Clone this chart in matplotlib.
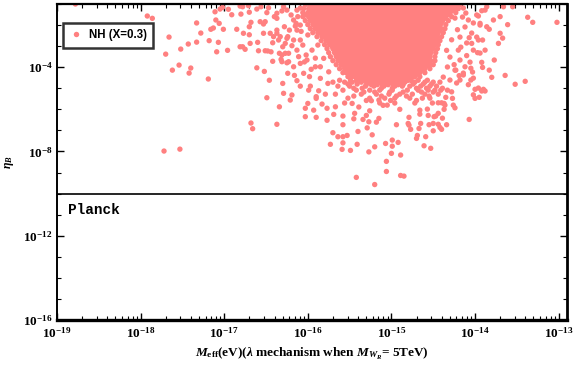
import numpy as np
import matplotlib
matplotlib.use("Agg")
import matplotlib.pyplot as plt
from matplotlib.ticker import FixedLocator, LogLocator, FuncFormatter, NullFormatter
from matplotlib.lines import Line2D

plt.rcParams['mathtext.fontset'] = 'custom'
plt.rcParams['mathtext.rm'] = 'Liberation Serif:bold'
plt.rcParams['mathtext.bf'] = 'Liberation Serif:bold'
plt.rcParams['mathtext.it'] = 'Liberation Serif:italic:bold'

# ---------------- data (log10 values) ----------------
left_lx = [-18.78,-17.92,-17.86,-17.33,-17.28,-17.66,-17.33,-17.43,-17.52,-17.70,-17.54,-17.62,-17.40,-17.42,-17.72,-17.53,-17.19,-16.68,-16.66,-16.37,
           -17.18,-17.09,-17.07,-17.16,-17.13,-17.10,-17.06,-17.01,-16.96,-17.11,-17.05,-17.02,-16.95,-16.91,-16.85,-16.81,-16.78,-16.75,-16.77,-16.70,
           -16.70,-16.70,-16.80,-16.81,-16.71,-16.68,-16.60,-16.59,-16.61,-16.52,-16.48,-16.46,-16.49,-16.34,-16.30,-16.29,-16.42,-16.34,-16.24,-16.16,
           -16.13,-16.19,-16.21,-16.49,-16.51,-16.53,-16.47,-16.37,-16.37,-16.41,-16.35,-16.32,-16.27,-16.27,-16.25,-16.24,-16.25,-16.28]
left_ly = [-1.00,-1.57,-1.68,-1.90,-2.38,-2.57,-2.81,-2.90,-3.14,-3.38,-3.90,-4.14,-4.04,-4.28,-7.98,-7.89,-4.56,-6.65,-6.92,-6.71,
           -2.74,-3.27,-2.82,-2.20,-2.14,-1.76,-1.92,-2.20,-3.20,-1.37,-1.24,-1.16,-1.25,-1.51,-2.20,-3.03,-3.03,-3.15,-2.39,-2.46,
           -2.08,-1.39,-1.48,-1.10,-1.08,-1.87,-2.82,-3.22,-4.03,-4.20,-3.23,-4.62,-5.45,-5.88,-4.77,-5.24,-3.72,-3.34,-4.29,-4.39,
           -4.64,-5.32,-5.56,-1.41,-1.84,-2.39,-1.18,-1.68,-2.39,-2.55,-2.71,-3.63,-2.87,-3.34,-3.79,-2.55,-1.29,-2.08]

left2_lx = [-16.78,-16.61,-16.56,-16.57,-16.53,-16.40,-16.37,-16.31,-16.29,-16.69,-16.51,-16.44,-16.42,-16.45,-16.37,-16.33,-16.30,-16.25,-16.22,-16.31,
            -16.31,-16.23,-16.23,-16.17,-16.09,-15.97,-15.90,-15.99,-16.05,-16.09,-16.01,-15.91,-15.85,-15.81,-15.75,-15.85,-15.76,-16.13,-16.09,-16.17,
            -16.13,-16.17,-16.13,-16.09,-16.03,-16.09,-16.00,-16.06,-15.95,-16.02,-15.88,-15.91,
            -16.12,-16.20,-16.15,-16.08,-16.19,-16.04,-15.96,-16.11,-15.98,-16.14]
left2_ly = [-1.13,-1.24,-1.13,-1.84,-1.95,-1.60,-1.44,-1.33,-1.13,-2.87,-3.22,-3.27,-2.84,-2.39,-2.24,-2.55,-3.03,-2.63,-2.24,-3.42,
            -3.74,-3.34,-3.74,-3.98,-4.90,-4.90,-5.40,-5.09,-4.29,-3.82,-3.66,-3.98,-3.98,-3.58,-4.22,-4.53,-4.77,-3.19,-2.71,-2.71,
            -2.24,-1.76,-1.29,-1.19,-1.52,-2.00,-2.47,-2.95,-3.19,-3.42,-2.95,-3.57,
            -1.60,-1.52,-2.05,-2.30,-2.98,-3.75,-4.10,-3.50,-4.45,-1.92]

mid_lx = [-16.03,-16.03,-16.00,-15.93,-15.90,-15.90,-15.87,-15.83,-15.79,-15.77,
          -15.77,-15.70,-15.73,-15.69,-15.67,-15.64,-15.58,-15.59,-15.58,-15.58,
          -15.53,-15.49,-15.47,-15.45,-15.42,-15.41,-15.40,-15.39,-15.34,-15.30,
          -15.29,-15.27,-15.26,-15.24,-15.23,-15.20,-15.20,-15.18,-15.15,-15.15,
          -15.10,-15.07,-15.06,-15.06,-15.05,-15.00,-14.99,-14.94,-14.92,-14.89,
          -14.89,-14.85,-14.90,-14.79,-14.79,-14.77,-14.70,-14.69,-14.66,-14.67,
          -14.65,-14.61,-14.59,-14.55,-14.53,-14.50,-14.49,-14.44,-14.42,-14.39,
          -14.37,-14.34,-14.35,-14.26,-14.24,-14.07,
          -15.58,-15.44,-15.27,-14.99,-14.80,-14.50,-14.47,-14.44,-14.40,-14.66,
          -14.56,-14.57,-14.44,-14.37,-14.02,-14.00,-13.95,-13.92,-13.88,-14.28,
          -14.27,-14.40,-14.36]
mid_ly = [-5.95,-6.35,-5.72,-6.04,-6.38,-5.48,-5.12,-5.75,-5.28,-6.52,
          -5.95,-7.11,-7.66,-6.24,-5.88,-7.30,-7.30,-7.90,-6.73,-6.32,
          -7.24,-7.95,-5.72,-6.45,-9.23,-7.66,-7.05,-5.89,-6.48,-6.29,
          -6.88,-8.02,-6.07,-5.59,-7.21,-9.57,-7.78,-6.61,-6.43,-5.56,
          -5.81,-7.62,-8.47,-8.95,-5.80,-8.09,-7.46,-6.73,-7.57,-8.17,
          -9.14,-9.17,-6.00,-6.38,-6.75,-6.95,-7.38,-7.24,-6.23,-6.91,
          -6.67,-7.73,-7.30,-6.73,-7.85,-7.02,-6.35,-6.19,-6.86,-6.42,
          -6.00,-6.73,-5.43,-5.80,-5.93,-6.48,
          -7.59,-6.19,-6.59,-7.75,-6.67,-6.67,-6.32,-6.71,-6.95,-6.04,
          -6.29,-5.99,-5.69,-5.72,-5.31,-5.48,-5.43,-5.13,-5.13,-5.17,
          -5.48,-5.69,-5.80]

right_lx = [-13.02,-13.31,-13.37,-13.40,-13.52,-13.55,-13.61,-13.64,-13.67,-13.70,
            -13.70,-13.72,-13.66,-13.77,-13.78,-13.80,-13.83,-13.83,-13.88,-13.90,
            -13.91,-13.92,-14.00,-14.03,-14.05,-14.08,-13.86,-13.88,-13.92,-13.96,
            -13.94,-13.86,-13.96,-13.91,-14.04,-13.97,-14.12,-14.14,-14.23,-14.18,
            -14.26,-14.24,-14.14,-14.11,-14.08,-14.12,-14.02,-13.98,-13.94,-14.04,
            -13.98,-14.18,-14.10,-14.02,-14.20,-14.30,-14.18,-14.06,-13.94,-14.33,
            -14.24,-14.14,-14.02,-14.30,-14.22,-14.33,-14.38,-13.96,-13.90,
            -14.15,-14.21,-14.07,-14.28,-14.17,-14.10,-14.34,-14.25,-14.05,-14.19]
right_ly = [-1.87,-1.87,-1.63,-4.67,-4.81,-1.13,-1.98,-4.39,-2.62,-1.60,
            -2.39,-2.87,-1.13,-3.66,-1.76,-4.48,-4.14,-2.20,-3.19,-5.05,
            -4.01,-3.77,-5.05,-4.23,-4.61,-4.83,-1.13,-1.29,-1.32,-1.57,
            -1.92,-2.08,-2.71,-2.71,-2.87,-3.31,-3.98,-4.37,-4.14,-4.61,
            -1.29,-1.67,-1.19,-1.43,-1.76,-2.09,-1.90,-1.52,-2.00,-2.38,
            -2.57,-2.57,-2.85,-3.19,-3.19,-3.52,-3.66,-3.76,-3.33,-3.99,
            -4.14,-4.28,-4.52,-4.61,-4.75,-5.09,-4.47,-4.99,-5.09,
            -1.62,-2.22,-2.60,-2.70,-3.05,-3.45,-3.20,-3.88,-4.05,-4.40]

# dense region: one list of log10(M_eff) values for each log10(eta_B) row
core_ly = [-1.03,-1.22,-1.41,-1.60,-1.79,-1.98,-2.17,-2.36,-2.55,-2.74,-2.93,-3.12,-3.31,-3.50,-3.69,-3.88,-4.07,-4.26,-4.45,-4.64,-4.83]
core_lx = [
    [-16.03,-15.97,-15.90,-15.85,-15.78,-15.73,-15.66,-15.61,-15.54,-15.49,-15.42,-15.36,-15.31,-15.24,-15.19,-15.12,-15.07,-15.00,-14.95,-14.88,-14.83,-14.76,-14.71,-14.64,-14.58,-14.53,-14.46,-14.41,-14.34,-14.29,-14.22,-14.18],
    [-16.05,-15.99,-15.93,-15.87,-15.82,-15.75,-15.69,-15.64,-15.57,-15.51,-15.46,-15.39,-15.33,-15.28,-15.21,-15.15,-15.10,-15.03,-14.97,-14.92,-14.85,-14.79,-14.74,-14.67,-14.61,-14.56,-14.49,-14.43,-14.38,-14.31,-14.25,-14.20],
    [-16.06,-16.00,-15.94,-15.88,-15.81,-15.76,-15.70,-15.63,-15.58,-15.52,-15.45,-15.40,-15.34,-15.27,-15.22,-15.16,-15.09,-15.04,-14.98,-14.91,-14.86,-14.80,-14.73,-14.68,-14.62,-14.55,-14.50,-14.44,-14.37,-14.30,-14.23],
    [-16.06,-15.99,-15.93,-15.86,-15.80,-15.75,-15.68,-15.62,-15.57,-15.50,-15.44,-15.39,-15.32,-15.26,-15.21,-15.14,-15.08,-15.03,-14.96,-14.90,-14.85,-14.78,-14.72,-14.67,-14.60,-14.54,-14.49,-14.42,-14.35,-14.28],
    [-16.03,-15.97,-15.91,-15.85,-15.78,-15.73,-15.67,-15.60,-15.55,-15.49,-15.42,-15.37,-15.31,-15.24,-15.19,-15.13,-15.06,-15.01,-14.95,-14.88,-14.83,-14.77,-14.70,-14.65,-14.59,-14.52,-14.46,-14.39,-14.32],
    [-16.00,-15.94,-15.88,-15.81,-15.76,-15.70,-15.63,-15.58,-15.52,-15.45,-15.40,-15.34,-15.27,-15.22,-15.16,-15.09,-15.04,-14.98,-14.91,-14.86,-14.80,-14.73,-14.68,-14.62,-14.55,-14.49,-14.42,-14.35],
    [-15.97,-15.91,-15.86,-15.79,-15.73,-15.68,-15.61,-15.55,-15.50,-15.43,-15.37,-15.32,-15.25,-15.19,-15.14,-15.07,-15.01,-14.96,-14.89,-14.83,-14.78,-14.71,-14.65,-14.60,-14.53,-14.47,-14.41,-14.36],
    [-15.94,-15.88,-15.83,-15.76,-15.70,-15.65,-15.58,-15.52,-15.47,-15.40,-15.34,-15.29,-15.22,-15.16,-15.11,-15.04,-14.98,-14.93,-14.86,-14.80,-14.75,-14.68,-14.62,-14.57,-14.50,-14.44,-14.38],
    [-15.89,-15.83,-15.78,-15.71,-15.65,-15.60,-15.53,-15.47,-15.42,-15.35,-15.29,-15.24,-15.17,-15.11,-15.06,-14.99,-14.93,-14.88,-14.81,-14.75,-14.70,-14.63,-14.57,-14.52,-14.45,-14.40],
    [-15.84,-15.78,-15.73,-15.66,-15.60,-15.55,-15.48,-15.42,-15.37,-15.30,-15.24,-15.19,-15.12,-15.06,-15.01,-14.94,-14.88,-14.83,-14.76,-14.70,-14.65,-14.58,-14.52,-14.46,-14.42],
    [-15.80,-15.74,-15.69,-15.62,-15.56,-15.51,-15.44,-15.38,-15.33,-15.26,-15.20,-15.15,-15.08,-15.02,-14.97,-14.90,-14.84,-14.79,-14.72,-14.66,-14.61,-14.54,-14.48,-14.44],
    [-15.77,-15.70,-15.65,-15.58,-15.52,-15.47,-15.40,-15.34,-15.29,-15.22,-15.16,-15.11,-15.04,-14.98,-14.93,-14.86,-14.80,-14.75,-14.68,-14.62,-14.57,-14.50,-14.45],
    [-15.75,-15.68,-15.61,-15.54,-15.48,-15.43,-15.36,-15.30,-15.25,-15.18,-15.12,-15.07,-15.00,-14.94,-14.89,-14.82,-14.76,-14.71,-14.64,-14.58,-14.53,-14.47],
    [-15.73,-15.66,-15.57,-15.50,-15.44,-15.39,-15.32,-15.26,-15.21,-15.14,-15.08,-15.03,-14.96,-14.90,-14.85,-14.78,-14.72,-14.67,-14.60,-14.54,-14.48],
    [-15.70,-15.64,-15.58,-15.53,-15.46,-15.40,-15.35,-15.28,-15.22,-15.17,-15.10,-15.04,-14.99,-14.92,-14.86,-14.81,-14.74,-14.68,-14.62,-14.57,-14.53,-14.48],
    [-15.66,-15.60,-15.54,-15.49,-15.42,-15.36,-15.31,-15.24,-15.18,-15.13,-15.06,-15.00,-14.95,-14.88,-14.82,-14.77,-14.70,-14.64,-14.58,-14.54,-14.50],
    [-15.62,-15.56,-15.50,-15.45,-15.38,-15.32,-15.27,-15.20,-15.14,-15.09,-15.02,-14.96,-14.91,-14.84,-14.78,-14.73,-14.66,-14.60,-14.54],
    [-15.58,-15.54,-15.50,-15.44,-15.39,-15.32,-15.26,-15.21,-15.14,-15.08,-15.03,-14.96,-14.90,-14.85,-14.78,-14.72,-14.66,-14.60],
    [-15.52,-15.48,-15.44,-15.37,-15.31,-15.24,-15.18,-15.11,-15.05,-14.98,-14.92,-14.85,-14.79,-14.72,-14.66],
    [-15.42,-15.36,-15.30,-15.24,-15.18,-15.12,-15.06,-15.00,-14.94,-14.88,-14.82,-14.76],
    [-15.30,-15.24,-15.17,-15.11,-15.04,-14.98,-14.92,-14.86],
]

# sparser band just below the dense region
fringe_ly = [-4.62,-4.71,-4.80,-4.90,-5.00,-5.09,-5.18,-5.28,-5.37,-5.47,-5.58,-5.70]
fringe_lx = [
    [-15.62,-15.49,-15.40,-15.28,-15.16,-15.02,-14.90,-14.80,-14.68,-14.57],
    [-15.70,-15.56,-15.47,-15.36,-15.24,-15.14,-15.04,-14.92,-14.84,-14.72,-14.60,-14.50,-14.42],
    [-15.52,-15.41,-15.19,-15.06,-14.95,-14.74,-14.62,-14.52],
    [-15.64,-15.50,-15.31,-15.21,-15.09,-14.96,-14.87,-14.78,-14.65,-14.54,-14.46],
    [-15.45,-15.35,-15.12,-14.99,-14.70,-14.58,-14.39],
    [-15.58,-15.42,-15.26,-15.14,-14.99,-14.81,-14.68,-14.56,-14.48,-14.41],
    [-15.33,-15.20,-15.02,-14.86,-14.64,-14.50],
    [-15.67,-15.36,-15.18,-15.03,-14.90,-14.75,-14.60,-14.44],
    [-15.45,-15.12,-14.94,-14.82,-14.55],
    [-15.52,-15.26,-15.08,-14.96,-14.78,-14.63,-14.54],
    [-15.30,-15.01,-14.70],
    [-15.56,-15.14,-14.96,-14.72,-14.51],
]

x_major = [-19, -18, -17, -16, -15, -14, -13]
y_major = [-16, -12, -8, -4]
planck_ly = -10.0
legend_label = "NH (X=0.3)"
# ---------------------------------------------------------------------------

def pairs(a, b):
    n = min(len(a), len(b))
    return list(a[:n]), list(b[:n])

LX, LY = [], []
for a, b in [(left_lx, left_ly), (left2_lx, left2_ly), (mid_lx, mid_ly), (right_lx, right_ly)]:
    xa, yb = pairs(a, b)
    LX += xa
    LY += yb
for rows_y, rows_x in [(core_ly, core_lx), (fringe_ly, fringe_lx)]:
    for yv, row in zip(rows_y, rows_x):
        LX += row
        LY += [yv] * len(row)

X = 10.0 ** np.array(LX)
Y = 10.0 ** np.array(LY)

color = '#FF8080'
fig = plt.figure(figsize=(5.76, 3.65), dpi=100)
ax = fig.add_axes([57/576, 1 - 320/365, 510/576, 316/365])
ax.set_xscale('log')
ax.set_yscale('log')

# solid interior of the dense cloud (its edges come from the first/last value of each row)
edge_y = np.array(core_ly)
edge_l = np.array([r[0] for r in core_lx]) + 0.04
edge_r = np.array([r[-1] for r in core_lx]) - 0.04
ax.fill_betweenx(10.0 ** np.r_[edge_y[0] + 0.2, edge_y], 10.0 ** np.r_[edge_l[0], edge_l],
                 10.0 ** np.r_[edge_r[0], edge_r], color=color, lw=0, zorder=1.9)
ax.scatter(X, Y, s=15, c=color, edgecolors='none', zorder=2)
ax.set_xlim(1e-19, 10**-12.9)
ax.set_ylim(1e-16, 10**-1.0)

ax.axhline(10**planck_ly, color='black', lw=1.2, zorder=3)
ax.text(0.022, 0.348, 'Planck', transform=ax.transAxes, family='Liberation Mono',
        fontweight='bold', fontsize=10.4, va='center', ha='left')

def fmt(v, pos):
    e = int(round(np.log10(v)))
    return r'$\mathrm{10^{%d}}$' % e

ax.xaxis.set_major_locator(FixedLocator([10.0**e for e in x_major]))
ax.xaxis.set_minor_locator(LogLocator(base=10, subs=np.arange(2, 10), numticks=40))
ax.xaxis.set_major_formatter(FuncFormatter(fmt))
ax.xaxis.set_minor_formatter(NullFormatter())
ax.yaxis.set_major_locator(FixedLocator([10.0**e for e in y_major]))
ax.yaxis.set_minor_locator(LogLocator(base=10, subs=[1.0], numticks=40))
ax.yaxis.set_major_formatter(FuncFormatter(fmt))
ax.yaxis.set_minor_formatter(NullFormatter())

ax.tick_params(which='both', direction='in', top=True, right=True, labelsize=9.5, colors='black')
ax.tick_params(which='major', length=5, width=1.0)
ax.tick_params(axis='x', which='major', pad=4)
ax.tick_params(axis='y', which='major', pad=3)
ax.tick_params(which='minor', length=3, width=0.8)

for side, lw in [('bottom', 2.4), ('top', 1.6), ('left', 1.4), ('right', 2.0)]:
    ax.spines[side].set_linewidth(lw)

ax.set_xlabel(r'$M_{\mathrm{eff}}$(eV)($\lambda$ mechanism when $M_{W_R}$= 5TeV)',
              family='Liberation Serif', fontweight='bold', fontsize=9.5, labelpad=4)
ax.set_ylabel(r'$\eta_B$', fontsize=8.5)
ax.yaxis.set_label_coords(-0.080, 0.5)

handle = Line2D([], [], ls='none', marker='o', markersize=3.9, markerfacecolor=color,
                markeredgecolor='none')
leg = ax.legend([handle], [legend_label], loc='upper left', bbox_to_anchor=(0.0, 0.958),
                frameon=True, fancybox=False, edgecolor='black', borderpad=0.55,
                handlelength=1.2, handletextpad=0.5,
                prop={'family': 'Liberation Sans', 'weight': 'bold', 'size': 8.3})
leg.get_frame().set_linewidth(1.8)
leg.set_zorder(5)

fig.savefig('out.png', dpi=100)
